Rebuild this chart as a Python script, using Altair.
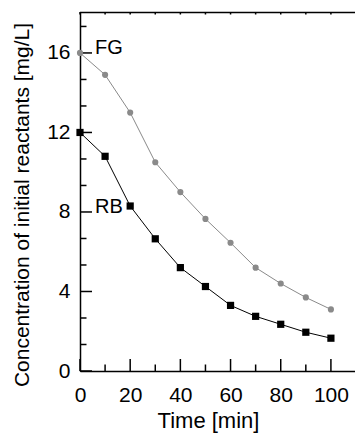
import altair as alt
import pandas as pd

# ---- data ----
time_min = [0, 10, 20, 30, 40, 50, 60, 70, 80, 90, 100]
fg_conc = [16.0, 14.9, 13.0, 10.5, 9.0, 7.65, 6.45, 5.2, 4.4, 3.7, 3.1]
rb_conc = [12.0, 10.8, 8.3, 6.65, 5.2, 4.25, 3.3, 2.75, 2.35, 1.95, 1.65]

label_names = ["FG", "RB"]
label_y = [16, 8]

x_major = [0, 20, 40, 60, 80, 100]
x_minor = [10, 30, 50, 70, 90]
x_top = [0, 10, 20, 30, 40, 50, 60, 70, 80, 90, 100]
y_major = [0, 4, 8, 12, 16]
y_minor = [4 / 3, 8 / 3, 16 / 3, 20 / 3, 28 / 3, 32 / 3, 40 / 3, 44 / 3, 52 / 3]

X_MAX = 109.6
Y_MAX = 18.06
W, H = 275, 359
FONT = "Liberation Sans"
GRAY = "#8a8a8a"

xs = alt.Scale(domain=[0, X_MAX], nice=False, zero=False)
ys = alt.Scale(domain=[0, Y_MAX], nice=False, zero=False)

fg = pd.DataFrame({"t": time_min, "c": fg_conc})
rb = pd.DataFrame({"t": time_min, "c": rb_conc})

x_axis = alt.Axis(values=x_major, ticks=False, tickSize=0, grid=False,
                  domainColor="black", domainWidth=1.5,
                  labelFont=FONT, labelFontSize=21, labelColor="black",
                  labelBaseline="alphabetic", labelPadding=30,
                  labelFlush=False, labelOverlap=False,
                  title="Time [min]", titleFont=FONT, titleFontSize=22,
                  titleFontWeight="normal", titleColor="black",
                  titleX=128, titleY=56, titleBaseline="alphabetic")
y_axis = alt.Axis(values=y_major, ticks=False, tickSize=0, grid=False,
                  domainColor="black", domainWidth=1.5,
                  labelFont=FONT, labelFontSize=21, labelColor="black",
                  labelPadding=10, labelFlush=False, labelOverlap=False,
                  title="Concentration of initial reactants [mg/L]",
                  titleFont=FONT, titleFontSize=21, titleFontWeight="normal",
                  titleColor="black", titleX=-52, titleY=192.5,
                  titleBaseline="alphabetic")

fg_line = alt.Chart(fg).mark_line(color=GRAY, strokeWidth=1).encode(
    x=alt.X("t:Q", scale=xs, axis=x_axis),
    y=alt.Y("c:Q", scale=ys, axis=y_axis),
)
fg_pts = alt.Chart(fg).mark_point(shape="circle", filled=True, color=GRAY,
                                  size=38, opacity=1).encode(
    x=alt.X("t:Q", scale=xs), y=alt.Y("c:Q", scale=ys))
rb_line = alt.Chart(rb).mark_line(color="black", strokeWidth=1).encode(
    x=alt.X("t:Q", scale=xs), y=alt.Y("c:Q", scale=ys))
rb_pts = alt.Chart(rb).mark_point(shape="square", filled=True, color="black",
                                  size=52, opacity=1).encode(
    x=alt.X("t:Q", scale=xs), y=alt.Y("c:Q", scale=ys))

# inward ticks
xmaj = alt.Chart(pd.DataFrame({"v": x_major})).mark_rule(color="black", strokeWidth=1.5).encode(
    x=alt.X("v:Q", scale=xs), y=alt.value(H), y2=alt.value(H - 12))
xmin = alt.Chart(pd.DataFrame({"v": x_minor})).mark_rule(color="black", strokeWidth=1.5).encode(
    x=alt.X("v:Q", scale=xs), y=alt.value(H), y2=alt.value(H - 6.5))
xtop = alt.Chart(pd.DataFrame({"v": x_top})).mark_rule(color="black", strokeWidth=1.5).encode(
    x=alt.X("v:Q", scale=xs), y=alt.value(0), y2=alt.value(2.5))
ymaj = alt.Chart(pd.DataFrame({"v": y_major})).mark_rule(color="black", strokeWidth=1.5).encode(
    y=alt.Y("v:Q", scale=ys), x=alt.value(0), x2=alt.value(12))
ymin = alt.Chart(pd.DataFrame({"v": y_minor})).mark_rule(color="black", strokeWidth=1.5).encode(
    y=alt.Y("v:Q", scale=ys), x=alt.value(0), x2=alt.value(6.5))
top = alt.Chart(pd.DataFrame({"v": [0]})).mark_rule(color="black", strokeWidth=1.5).encode(
    x=alt.value(0), x2=alt.value(W), y=alt.value(0.5))

labels = alt.Chart(pd.DataFrame({"name": label_names, "y": label_y, "x": [0, 0]})).mark_text(
    align="left", baseline="middle", dx=15, dy=-5, font=FONT, fontSize=20, color="black"
).encode(x=alt.X("x:Q", scale=xs), y=alt.Y("y:Q", scale=ys), text="name:N")

chart = alt.layer(
    xmaj, xmin, xtop, ymaj, ymin, top, fg_line, fg_pts, rb_line, rb_pts, labels
).properties(
    width=W, height=H,
    padding={"left": 80, "top": 12, "right": 0, "bottom": 63},
    autosize=alt.AutoSizeParams(type="none"),
    background="white",
).configure_view(stroke=None)

chart.save("out.html", embed_options={"renderer": "svg", "actions": False})
